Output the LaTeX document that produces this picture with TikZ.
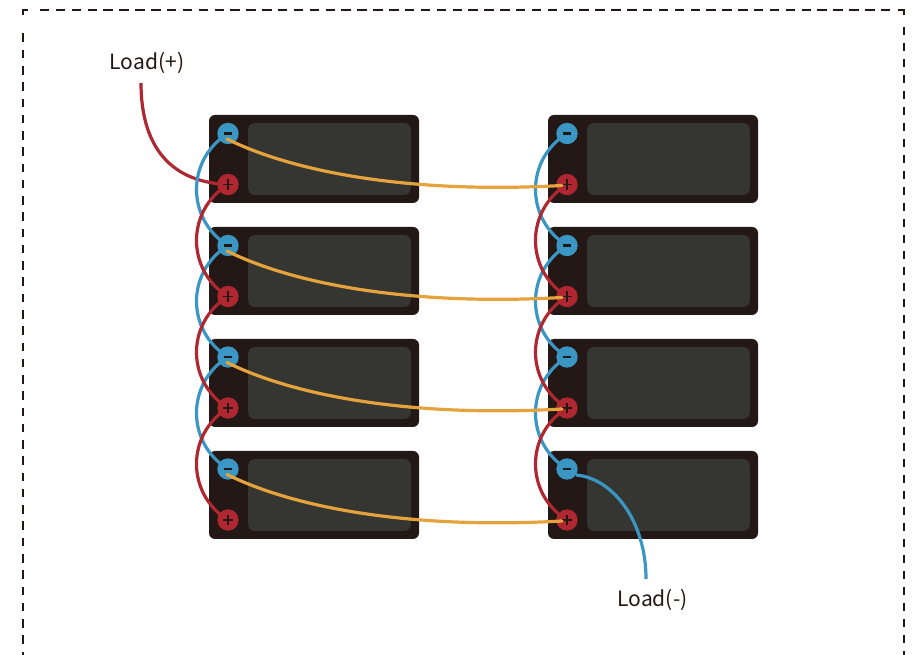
\documentclass[tikz,border=0pt]{standalone}
\usepackage{fontspec}
\setmainfont{Noto Sans CJK SC}
\definecolor{batt}{HTML}{231815}
\definecolor{panel}{HTML}{353631}
\definecolor{redw}{HTML}{AF2730}
\definecolor{bluew}{HTML}{3A97C4}
\definecolor{orangew}{HTML}{E5A33D}
\tikzset{
  battery/.style={fill=batt,draw=none,rounded corners=4.5pt,minimum width=157.5pt,minimum height=66pt,inner sep=0,outer sep=0},
  panelbox/.style={fill=panel,draw=none,rounded corners=5pt,minimum width=122pt,minimum height=54pt,inner sep=0,outer sep=0},
  minusterm/.style={circle,fill=bluew,minimum size=16pt,inner sep=0,outer sep=0,
    path picture={\draw[batt,line width=1.8pt] ([xshift=-3.2pt]path picture bounding box.center) -- ([xshift=3.2pt]path picture bounding box.center);}},
  plusterm/.style={circle,fill=redw,minimum size=16pt,inner sep=0,outer sep=0,
    path picture={\draw[batt,line width=.8pt] ([xshift=-3.8pt]path picture bounding box.center) -- ([xshift=3.8pt]path picture bounding box.center);
      \draw[batt,line width=.8pt] ([yshift=-3.8pt]path picture bounding box.center) -- ([yshift=3.8pt]path picture bounding box.center);}},
  wire/.style={line width=2.4pt},
  border/.style={batt,line width=1.5pt},
  label/.style={font=\fontsize{15.8}{18}\selectfont,text=batt,inner sep=0},
}
\begin{document}
\begin{tikzpicture}[x=.75pt,y=-.75pt]
\useasboundingbox (0,0) rectangle (914,655);
\clip (0,0) rectangle (914,655);
% dashed frame, open at the bottom
\draw[border] (23,15) -- (23,10) -- (28,10);
\draw[border] (898,10) -- (904,10) -- (904,15);
\draw[border,dash pattern=on 7.1pt off 4.8pt] (40,10) -- (893,10);
\draw[border,dash pattern=on 6.4pt off 5.8pt] (23,33.5) -- (23,655);
\draw[border,dash pattern=on 6.2pt off 5.8pt] (904,27) -- (904,655);
% batteries
\foreach \r/\y in {1/159,2/271,3/383,4/495}{
  \node[battery] (L\r) at (314,\y) {};
  \node[panelbox] (LP\r) at (329.5,\y) {};
  \node[battery] (R\r) at (653,\y) {};
  \node[panelbox] (RP\r) at (668.5,\y) {};
}
% terminal coordinates (wires are drawn below the terminals)
\foreach \r/\y in {1/133.5,2/245.5,3/357,4/469}{
  \coordinate (Lm\r) at (228,\y);
  \coordinate (Lp\r) at (228,\y+51);
  \coordinate (Rm\r) at (567,\y);
  \coordinate (Rp\r) at (567,\y+51);
}
\node[label] (loadp) at (147,63) {Load(+)};
\node[label] (loadm) at (652.5,600) {Load(-)};
\coordinate (loadpend) at (141,83);
\coordinate (loadmend) at (646,579);
\draw[wire,redw] (loadpend) .. controls (141,140) and (165,182) .. (Lp1);
\foreach \side in {L,R}{
  \foreach \a/\b in {1/2,2/3,3/4}{
    \draw[wire,bluew] (\side m\a) .. controls +(-42,26) and +(-42,-26) .. (\side m\b);
  }
}
\foreach \side in {L,R}{
  \foreach \a/\b in {1/2,2/3,3/4}{
    \draw[wire,redw] (\side p\a) .. controls +(-42,26) and +(-42,-26) .. (\side p\b);
  }
}
\foreach \r in {1,2,3,4}{
  \node[minusterm] (tLm\r) at (Lm\r) {};
  \node[plusterm] (tLp\r) at (Lp\r) {};
  \node[minusterm] (tRm\r) at (Rm\r) {};
  \node[plusterm] (tRp\r) at (Rp\r) {};
  \draw[wire,orangew,line cap=round] ([shift={(-1,5.5)}]tLm\r.center)
    .. controls ([shift={(72,41.5)}]tLm\r.center) and ([shift={(-147,9)}]tRp\r.center)
    .. ([shift={(-5,1)}]tRp\r.center);
}
\draw[wire,bluew] ([shift={(9,6)}]tRm4.center) .. controls (612,478) and (646,520) .. (loadmend);
\end{tikzpicture}
\end{document}
